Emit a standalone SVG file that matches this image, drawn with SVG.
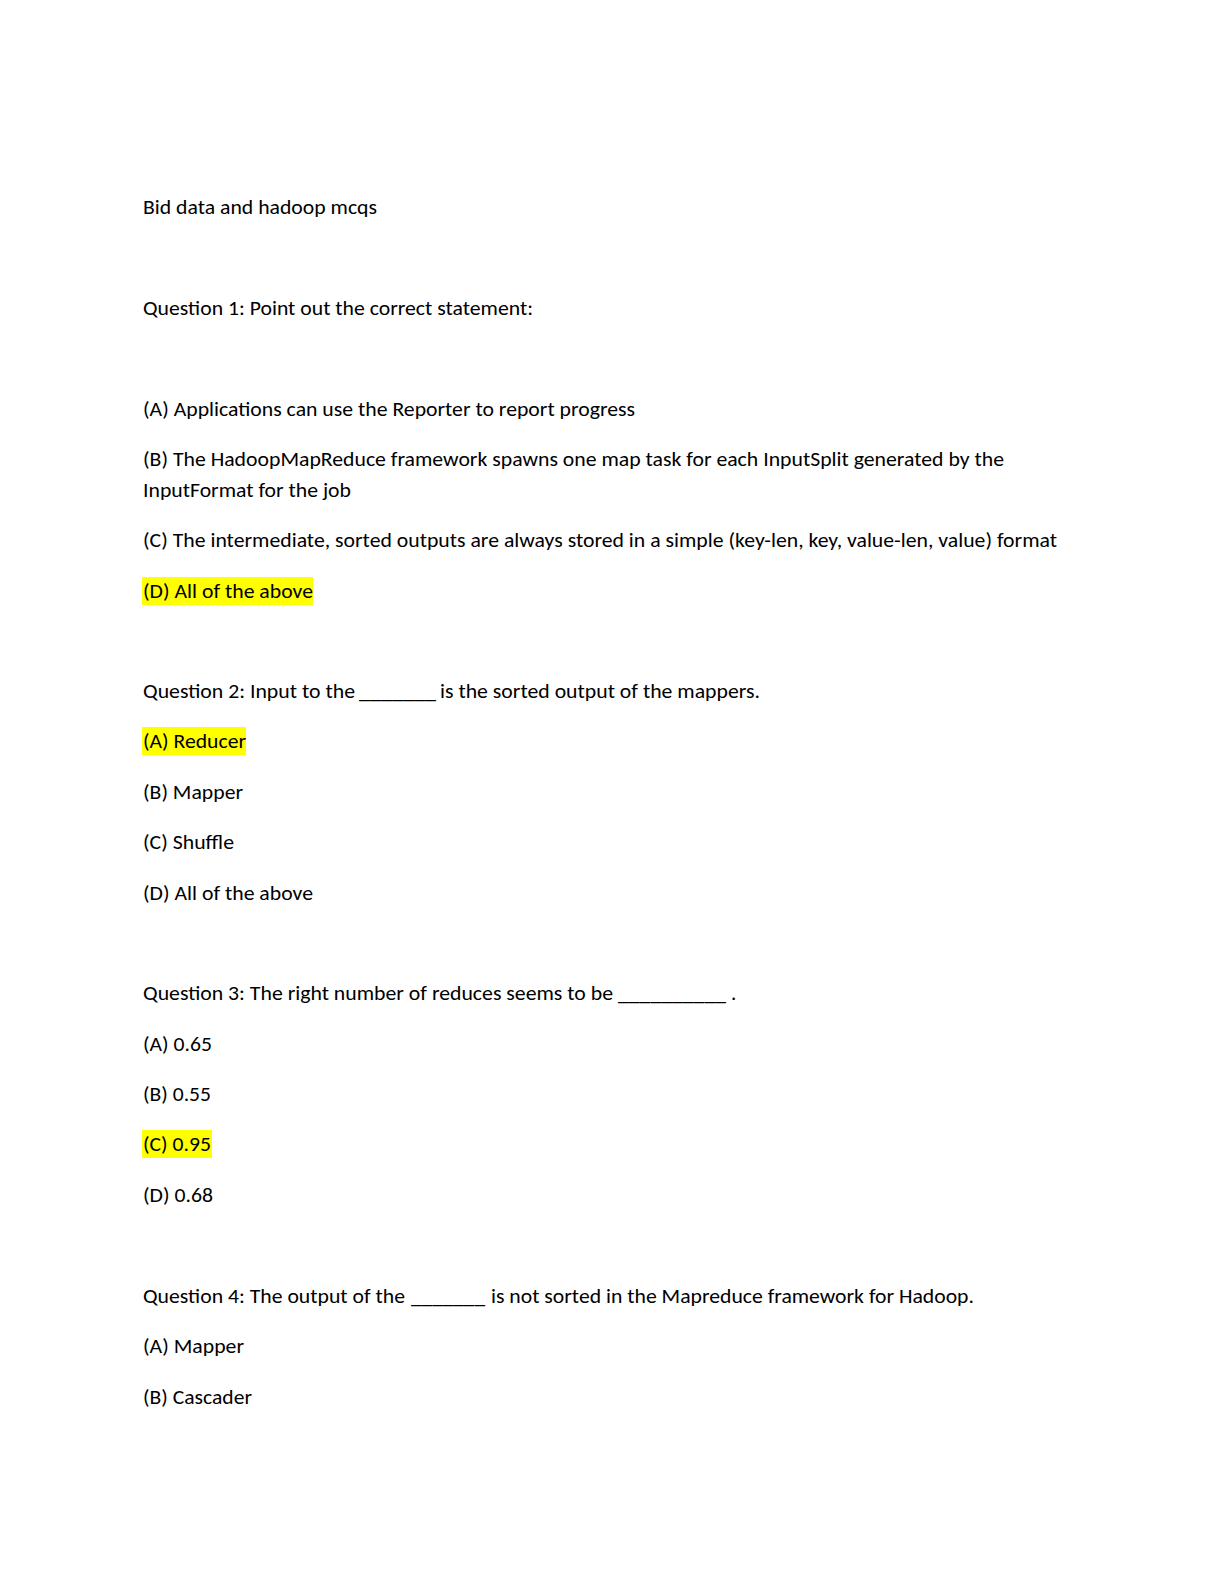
<svg xmlns="http://www.w3.org/2000/svg" width="1224" height="1584" viewBox="0 0 1224 1584">
<style>
text{font-family:Carlito,Lato,"Liberation Sans",sans-serif;font-size:21px;fill:#000}
.hl{fill:#FFFF00}
</style>
<rect x="0" y="0" width="1224" height="1584" fill="#fff"/>
<g id="title"><text x="143" y="214" textLength="234" lengthAdjust="spacingAndGlyphs">Bid data and hadoop mcqs</text></g>
<g id="q1">
<text x="143" y="315" textLength="390" lengthAdjust="spacingAndGlyphs">Question 1: Point out the correct statement:</text>
<text x="143" y="416" textLength="492" lengthAdjust="spacingAndGlyphs">(A) Applications can use the Reporter to report progress</text>
<text x="143" y="466" textLength="861" lengthAdjust="spacingAndGlyphs">(B) The HadoopMapReduce framework spawns one map task for each InputSplit generated by the</text>
<text x="143" y="497" textLength="208" lengthAdjust="spacingAndGlyphs">InputFormat for the job</text>
<text x="143" y="547" textLength="914" lengthAdjust="spacingAndGlyphs">(C) The intermediate, sorted outputs are always stored in a simple (key-len, key, value-len, value) format</text>
<rect class="hl" x="142" y="577" width="171" height="28"/>
<text x="143" y="598" textLength="170" lengthAdjust="spacingAndGlyphs">(D) All of the above</text>
</g>
<g id="q2">
<text x="143" y="698" textLength="212" lengthAdjust="spacingAndGlyphs">Question 2: Input to the</text>
<text x="359" y="698" textLength="77" lengthAdjust="spacingAndGlyphs">_______</text>
<text x="440" y="698" textLength="320" lengthAdjust="spacingAndGlyphs">is the sorted output of the mappers.</text>
<rect class="hl" x="142" y="727" width="104" height="28"/>
<text x="143" y="748" textLength="103" lengthAdjust="spacingAndGlyphs">(A) Reducer</text>
<text x="143" y="799" textLength="100" lengthAdjust="spacingAndGlyphs">(B) Mapper</text>
<text x="143" y="849" textLength="91" lengthAdjust="spacingAndGlyphs">(C) Shuffle</text>
<text x="143" y="900" textLength="170" lengthAdjust="spacingAndGlyphs">(D) All of the above</text>
</g>
<g id="q3">
<text x="143" y="1000" textLength="470" lengthAdjust="spacingAndGlyphs">Question 3: The right number of reduces seems to be</text>
<text x="618" y="1000" textLength="108" lengthAdjust="spacingAndGlyphs">__________</text>
<text x="731" y="1000">.</text>
<text x="143" y="1051" textLength="69" lengthAdjust="spacingAndGlyphs">(A) 0.65</text>
<text x="143" y="1101" textLength="68" lengthAdjust="spacingAndGlyphs">(B) 0.55</text>
<rect class="hl" x="142" y="1130" width="70" height="28"/>
<text x="143" y="1151" textLength="68" lengthAdjust="spacingAndGlyphs">(C) 0.95</text>
<text x="143" y="1202" textLength="70" lengthAdjust="spacingAndGlyphs">(D) 0.68</text>
</g>
<g id="q4">
<text x="143" y="1303" textLength="262" lengthAdjust="spacingAndGlyphs">Question 4: The output of the</text>
<text x="411" y="1303" textLength="74" lengthAdjust="spacingAndGlyphs">_______</text>
<text x="491" y="1303" textLength="483" lengthAdjust="spacingAndGlyphs">is not sorted in the Mapreduce framework for Hadoop.</text>
<text x="143" y="1353" textLength="101" lengthAdjust="spacingAndGlyphs">(A) Mapper</text>
<text x="143" y="1404" textLength="109" lengthAdjust="spacingAndGlyphs">(B) Cascader</text>
</g>
<g id="connectors"/>
</svg>
